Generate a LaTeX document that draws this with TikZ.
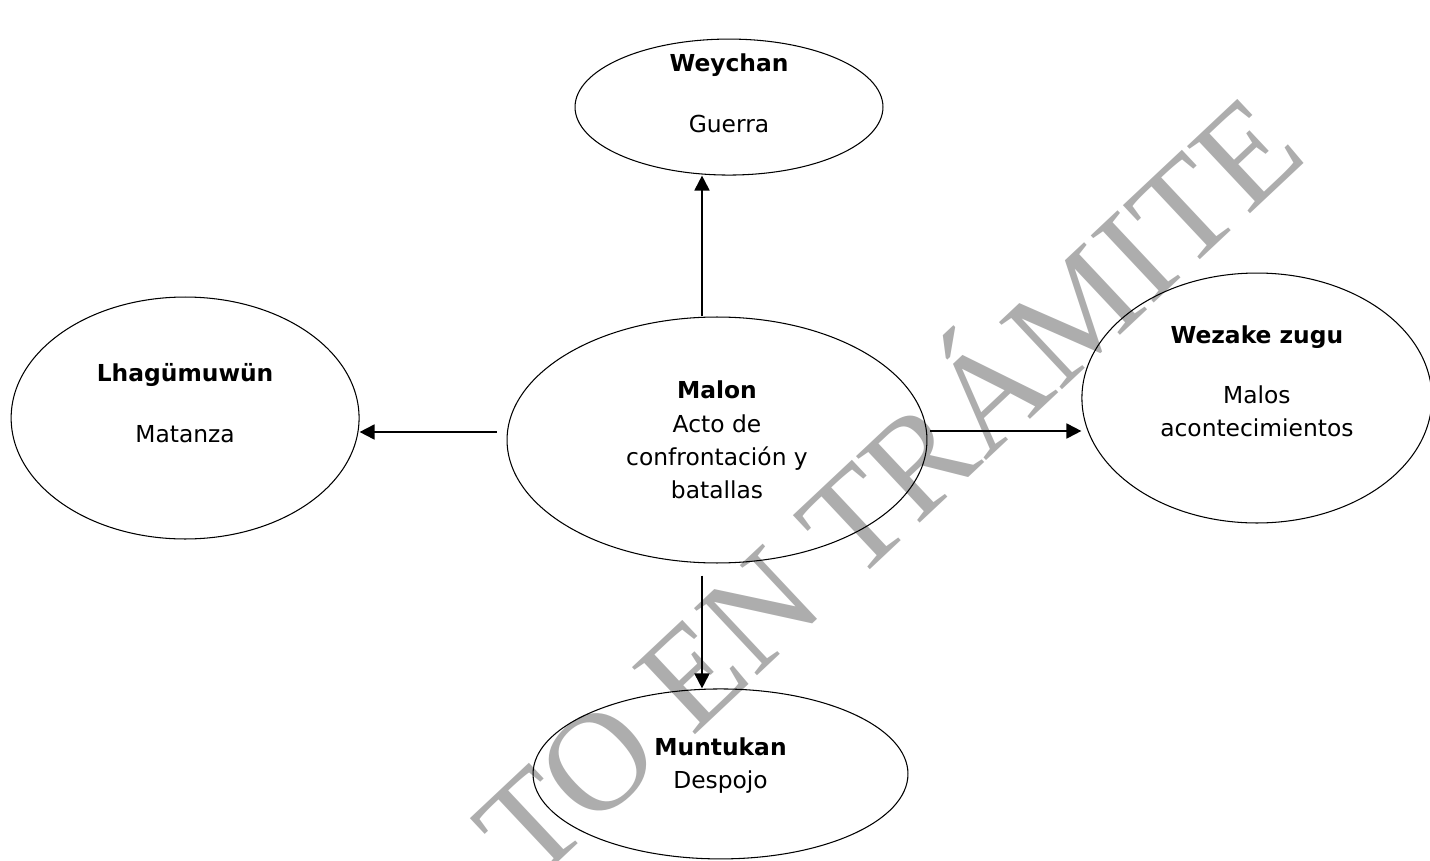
\documentclass[tikz,border=0pt]{standalone}
\usepackage{fontspec}
\setmainfont{DejaVu Sans}
\newfontfamily\wmfont{Liberation Serif}
\usetikzlibrary{shapes.geometric, arrows.meta, positioning}
\definecolor{wmgray}{RGB}{173,173,173}

\begin{document}
\begin{tikzpicture}[x=0.02cm, y=-0.02cm, node distance=6.7cm]

    \tikzstyle{concept} = [ellipse, draw=black, line width=0.6pt, inner sep=0pt, align=center, font=\fontsize{13.3}{19}\selectfont]
    \tikzstyle{arrow} = [line width=1.1pt, -{Triangle[length=8.5pt, width=8.5pt]}]
    \tikzstyle{watermark} = [rotate=43.2, text=wmgray, font=\wmfont\fontsize{80}{80}\selectfont]

    \useasboundingbox (0,0) rectangle (1430,861);

    % watermark behind the diagram
    \begin{scope}
        \clip (0,0) rectangle (1430,861);
        \node (wm) [watermark] at (880,479) {TO EN TRÁMITE};
    \end{scope}

    \node (malon) [concept, minimum width=8.4cm, minimum height=4.92cm] at (717,440) {\textbf{Malon}\\ Acto de\\ confrontación y\\ batallas};
    \node (weychan) [concept, above of=malon, xshift=0.24cm, yshift=-0.04cm, minimum width=6.16cm, minimum height=2.72cm, text height=28.9pt, text depth=0pt] {\textbf{Weychan}\\[15.6pt] Guerra};
    \node (lhag) [concept, left of=malon, xshift=-3.94cm, yshift=0.44cm, minimum width=6.96cm, minimum height=4.84cm, text depth=17pt] {\textbf{Lhagümuwün}\\[15.6pt] Matanza};
    \node (wezake) [concept, right of=malon, xshift=4.1cm, yshift=0.84cm, minimum width=7cm, minimum height=5cm, text depth=18.9pt] {\textbf{Wezake zugu}\\[15pt] Malos\\ acontecimientos};
    \node (muntukan) [concept, below of=malon, xshift=0.07cm, yshift=0.02cm, minimum width=7.5cm, minimum height=3.4cm, text depth=12.1pt] {\textbf{Muntukan}\\ Despojo};

    \draw [arrow] ([xshift=-0.3cm]malon.north) coordinate (up) -- (up |- weychan.south);
    \draw [arrow] ([xshift=-0.2cm, yshift=0.16cm]malon.west) coordinate (lt) -- (lt -| lhag.east);
    \draw [arrow] ([xshift=0.06cm, yshift=0.18cm]malon.east) coordinate (rt) -- (rt -| wezake.west);
    \draw [arrow] ([xshift=-0.3cm, yshift=-0.24cm]malon.south) coordinate (dn) -- (dn |- muntukan.north);
\end{tikzpicture}
\end{document}
